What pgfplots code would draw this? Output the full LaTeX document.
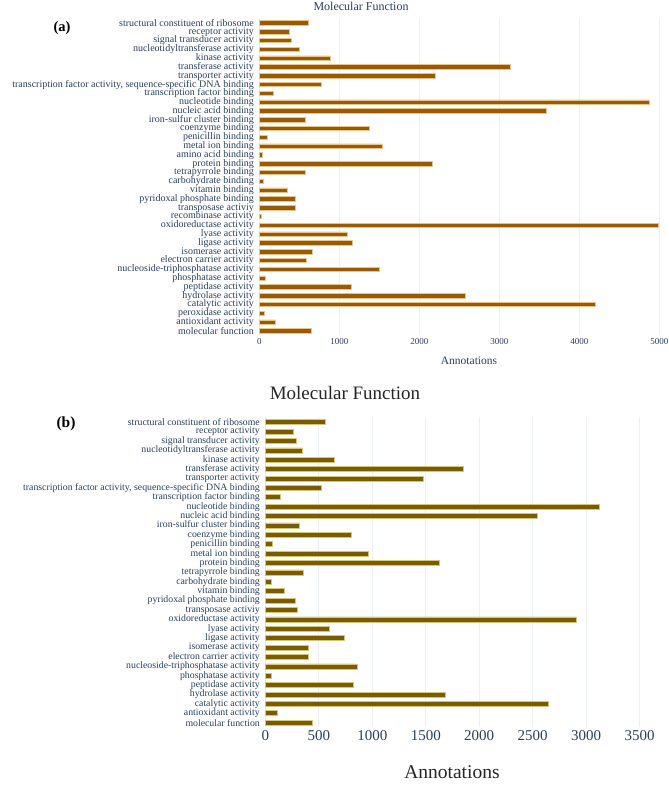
\documentclass[border=0pt]{standalone}
\usepackage{fontspec}
\setmainfont{Liberation Serif}
\usepackage{pgfplots}
\pgfplotsset{compat=1.18}
\definecolor{txt}{HTML}{2A3F5F}
\definecolor{barA}{HTML}{9A5A05}
\definecolor{edgeA}{HTML}{E8C38A}
\definecolor{barB}{HTML}{7A5C00}
\definecolor{edgeB}{HTML}{D8C478}
\definecolor{gridc}{HTML}{EBF0F8}
\begin{document}
\begin{tikzpicture}
\path[use as bounding box] (0pt,0pt) rectangle (669pt,793pt);
\pgfplotsset{
  mfstyle/.style={
    scale only axis,
    xbar, bar shift=0pt,
    axis line style={draw=none},
    major tick style={draw=none},
    xmajorgrids, grid style={gridc, line width=0.6pt},
    ytick={0,...,40},
    /pgf/number format/assume math mode=true,
    /pgf/number format/1000 sep={},
    tick label style={text=txt},
    clip=false,
  }
}
% ---------------- panel (a)
\begin{axis}[mfstyle,
  at={(259.3pt,457.6pt)}, anchor=south west,
  width=400pt, height=316.8pt,
  xmin=0, xmax=5000, ymin=-0.5, ymax=35.5,
  xtick={0,1000,...,5000},
  xticklabel style={font=\fontsize{9}{9}\selectfont},
  yticklabel style={font=\fontsize{10}{10}\selectfont, inner xsep=1pt},
  bar width=4.4pt,
  yticklabels={molecular function,antioxidant activity,peroxidase activity,catalytic activity,hydrolase activity,peptidase activity,phosphatase activity,nucleoside-triphosphatase activity,electron carrier activity,isomerase activity,ligase activity,lyase activity,oxidoreductase activity,recombinase activity,transposase activiy,pyridoxal phosphate binding,vitamin binding,carbohydrate binding,tetrapyrrole binding,protein binding,amino acid binding,metal ion binding,penicillin binding,coenzyme binding,iron-sulfur cluster binding,nucleic acid binding,nucleotide binding,transcription factor binding,{transcription factor activity, sequence-specific DNA binding},transporter activity,transferase activity,kinase activity,nucleotidyltransferase activity,signal transducer activity,receptor activity,structural constituent of ribosome},
]
\addplot[fill=barA, draw=edgeA, line width=0.7pt] coordinates {
(650,0) (204,1) (58,2) (4200,3) (2571,4) (1150,5) (75,6) (1496,7) (592,8) (659,9)
(1158,10) (1096,11) (4988,12) (30,13) (450,14) (446,15) (355,16) (50,17) (571,18) (2163,19)
(38,20) (1542,21) (96,22) (1375,23) (575,24) (3588,25) (4871,26) (171,27) (771,28) (2204,29)
(3142,30) (884,31) (500,32) (396,33) (380,34) (617,35)};
\end{axis}
% ---------------- panel (b)
\begin{axis}[mfstyle,
  at={(265.3pt,65.6pt)}, anchor=south west,
  width=374.4pt, height=309.9pt,
  xmin=0, xmax=3500, ymin=-0.5, ymax=32.5,
  xtick={0,500,...,3500},
  xticklabel style={font=\fontsize{15}{15}\selectfont},
  yticklabel style={font=\fontsize{9.8}{9.8}\selectfont, inner xsep=1pt},
  bar width=5pt,
  yticklabels={molecular function,antioxidant activity,catalytic activity,hydrolase activity,peptidase activity,phosphatase activity,nucleoside-triphosphatase activity,electron carrier activity,isomerase activity,ligase activity,lyase activity,oxidoreductase activity,transposase activiy,pyridoxal phosphate binding,vitamin binding,carbohydrate binding,tetrapyrrole binding,protein binding,metal ion binding,penicillin binding,coenzyme binding,iron-sulfur cluster binding,nucleic acid binding,nucleotide binding,transcription factor binding,{transcription factor activity, sequence-specific DNA binding},transporter activity,transferase activity,kinase activity,nucleotidyltransferase activity,signal transducer activity,receptor activity,structural constituent of ribosome},
]
\addplot[fill=barB, draw=edgeB, line width=0.7pt] coordinates {
(439,0) (112,1) (2645,2) (1682,3) (820,4) (53,5) (857,6) (399,7) (405,8) (738,9)
(598,10) (2910,11) (302,12) (278,13) (178,14) (59,15) (358,16) (1623,17) (966,18) (66,19)
(807,20) (318,21) (2545,22) (3121,23) (143,24) (523,25) (1480,26) (1850,27) (642,28) (349,29)
(287,30) (262,31) (561,32)};
\end{axis}
% ---------------- texts
\node[text=txt, font=\fontsize{12}{12}\selectfont] at (361pt,787pt) {Molecular Function};
\node[text=txt, font=\fontsize{11.5}{11.5}\selectfont] at (469pt,432pt) {Annotations};
\node[font=\fontsize{14.5}{14.5}\selectfont\bfseries] at (62pt,765pt) {(a)};
\node[text=black!85, font=\fontsize{19}{19}\selectfont] at (345pt,400pt) {Molecular Function};
\node[text=black!85, font=\fontsize{19.5}{19.5}\selectfont] at (452pt,21pt) {Annotations};
\node[font=\fontsize{15.5}{15.5}\selectfont\bfseries] at (66pt,369pt) {(b)};
\end{tikzpicture}
\end{document}
